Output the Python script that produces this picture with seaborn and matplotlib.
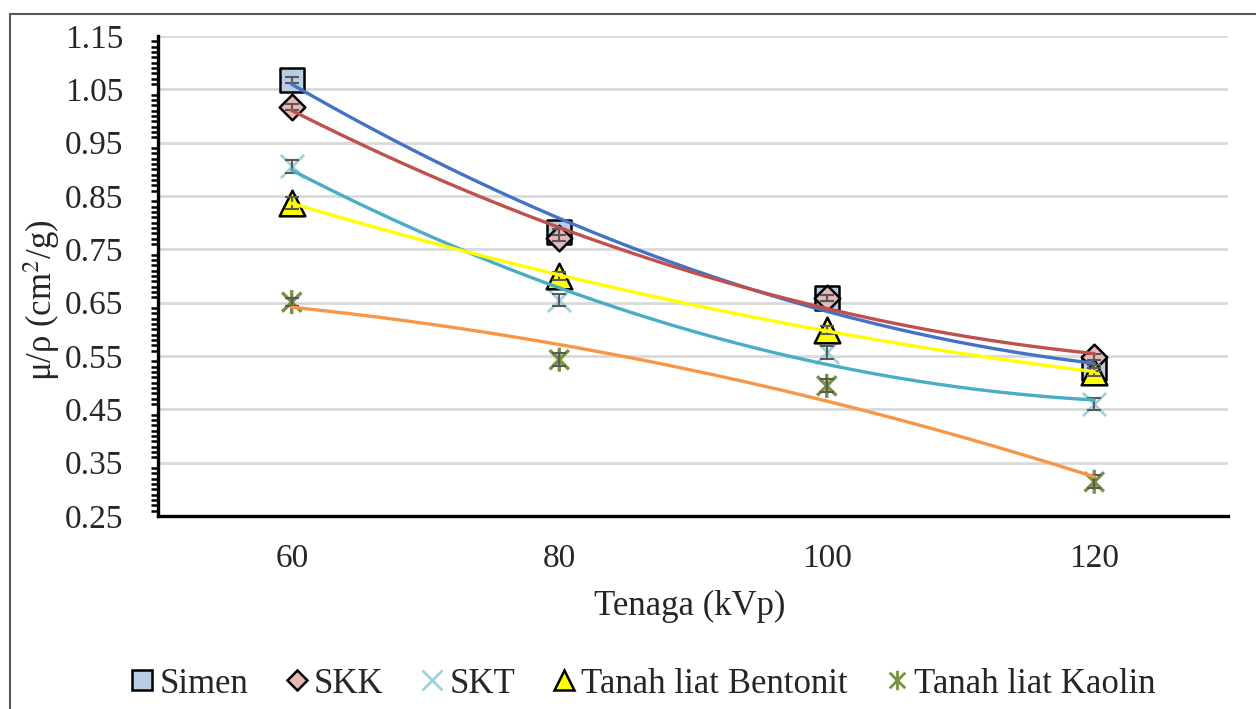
import numpy as np
import pandas as pd
import seaborn as sns
import matplotlib.pyplot as plt
from matplotlib.path import Path
from matplotlib.lines import Line2D
from matplotlib.ticker import MultipleLocator

# data
tenaga = [60, 80, 100, 120]
simen = [1.068, 0.783, 0.659, 0.528]
skk = [1.017, 0.771, 0.659, 0.548]
skt = [0.906, 0.655, 0.557, 0.460]
bentonit = [0.837, 0.700, 0.599, 0.520]
kaolin = [0.651, 0.543, 0.494, 0.314]
err_simen = [0.006, 0.006, 0.006, 0.006]
err_skk = [0.006, 0.006, 0.006, 0.006]
err_skt = [0.012, 0.012, 0.012, 0.012]
err_bentonit = [0.012, 0.008, 0.008, 0.008]
err_kaolin = [0.008, 0.012, 0.012, 0.012]
names = ['Simen', 'SKK', 'SKT', 'Tanah liat Bentonit', 'Tanah liat Kaolin']

star = Path([(-1, -1), (1, 1), (-1, 1), (1, -1), (0, -1.25), (0, 1.25)],
            [Path.MOVETO, Path.LINETO, Path.MOVETO, Path.LINETO, Path.MOVETO, Path.LINETO])

series = [
    (simen, err_simen, 's', '#B9CDE5', 'black', '#4472C4', 320),
    (skk, err_skk, 'D', '#E6B9B8', 'black', '#C0504D', 170),
    (skt, err_skt, 'x', '#9DD3E0', '#9DD3E0', '#4BACC6', 280),
    (bentonit, err_bentonit, '^', '#FFFF00', 'black', '#FFFF00', 340),
    (kaolin, err_kaolin, star, '#77933C', '#77933C', '#F79646', 300),
]

sns.set_style("white")
plt.rcParams['font.family'] = ['Liberation Serif', 'DejaVu Serif']
plt.rcParams['mathtext.fontset'] = 'stix'

fig = plt.figure(figsize=(12.56, 7.09), dpi=100)
ax = fig.add_axes([0.1258, 0.2722, 0.8519, 0.677])

handles = []
xs = np.linspace(60, 120, 200)
for (vals, err, mk, fc, ec, lc, s), name in zip(series, names):
    df = pd.DataFrame({'x': tenaga, 'y': vals})
    open_mk = mk == 'x' or isinstance(mk, Path)
    if mk == 'x':
        sns.scatterplot(data=df, x='x', y='y', marker=mk, s=s, color=fc,
                        linewidth=2.0, ax=ax, zorder=3)
    elif isinstance(mk, Path):
        sns.scatterplot(data=df, x='x', y='y', marker=mk, s=s, facecolor='none',
                        edgecolor=fc, linewidth=2.4, ax=ax, zorder=3)
    else:
        sns.scatterplot(data=df, x='x', y='y', marker=mk, s=s, color=fc,
                        edgecolor=ec, linewidth=1.8, ax=ax, zorder=3)
    ax.errorbar(tenaga, vals, yerr=err, fmt='none', ecolor='#595959',
                elinewidth=1.5, capsize=5, capthick=1.5, zorder=4)
    coef = np.polyfit(tenaga, vals, 2)
    sns.lineplot(x=xs, y=np.polyval(coef, xs), color=lc, linewidth=2.4,
                 ax=ax, zorder=5)
    if open_mk:
        h = Line2D([], [], marker=mk, linestyle='none', markersize=14,
                   markerfacecolor='none', markeredgecolor=fc, markeredgewidth=2)
    else:
        h = Line2D([], [], marker=mk, linestyle='none',
                   markersize=14 if mk != 'D' else 10,
                   markerfacecolor=fc, markeredgecolor=ec, markeredgewidth=1.8)
    handles.append(h)

ax.set_xlim(50, 130)
ax.set_ylim(0.25, 1.15)
ax.set_xticks([50, 60, 70, 80, 90, 100, 110, 120, 130])
ax.set_xticklabels(['', '60', '', '80', '', '100', '', '120', ''])
ax.set_yticks(np.arange(0.25, 1.151, 0.1))
ax.set_yticklabels([f'{v:.2f}' for v in np.arange(0.25, 1.151, 0.1)])
ax.yaxis.set_minor_locator(MultipleLocator(0.01))
ax.grid(axis='y', color='#D9D9D9', linewidth=2)
ax.grid(axis='x', visible=False)
ax.set_axisbelow(True)

for side in ['top', 'right']:
    ax.spines[side].set_visible(False)
for side in ['left', 'bottom']:
    ax.spines[side].set_linewidth(2.4)
    ax.spines[side].set_color('black')

ax.tick_params(axis='both', which='major', direction='out', length=8, width=2,
               color='black', labelsize=24)
ax.tick_params(axis='y', which='major', pad=17)
ax.tick_params(axis='y', which='minor', direction='out', length=5, width=1.8,
               color='black', left=True)
ax.tick_params(axis='x', which='major', pad=12)

ax.set_xlabel('Tenaga (kVp)', fontsize=25)
ax.set_ylabel('μ/ρ (cm$^2$/g)', fontsize=25)
ax.xaxis.set_label_coords(0.497, -0.154)
ax.yaxis.set_label_coords(-0.09, 0.45)

ax.legend(handles, names, loc='center', bbox_to_anchor=(0.4537, -0.35),
          ncol=5, frameon=False, fontsize=25, handlelength=0.6,
          handletextpad=0.2, columnspacing=1.1, borderaxespad=0)

# outer chart border (left and top only visible)
fig.add_artist(Line2D([10 / 1256, 10 / 1256], [0, 1 - 14 / 709],
                      color='#595959', linewidth=1.5))
fig.add_artist(Line2D([10 / 1256, 1], [1 - 14 / 709, 1 - 14 / 709],
                      color='#595959', linewidth=1.5))

fig.savefig('out.png', dpi=100)
